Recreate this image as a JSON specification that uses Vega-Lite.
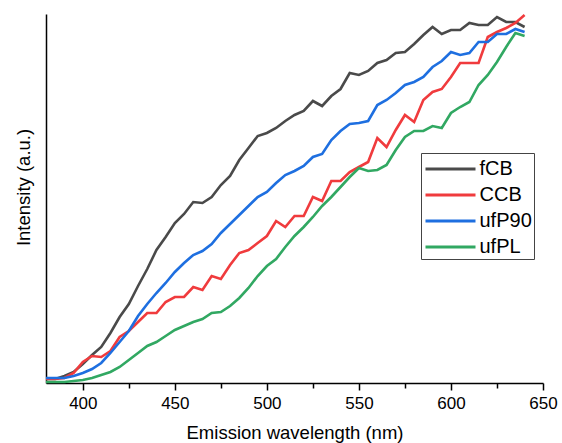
{
  "$schema": "https://vega.github.io/schema/vega-lite/v6.json",
  "width": 497,
  "height": 369,
  "autosize": {"type": "none"},
  "padding": {"left": 46, "top": 14, "right": 19, "bottom": 60},
  "background": "white",
  "config": {
    "view": {"stroke": null},
    "font": "Liberation Sans"
  },
  "data": {
    "values": [
      {"wl":380,"fCB":4,"CCB":4,"ufP90":5,"ufPL":1},
      {"wl":385,"fCB":4,"CCB":4,"ufP90":5,"ufPL":1},
      {"wl":390,"fCB":7,"CCB":5,"ufP90":5,"ufPL":1},
      {"wl":395,"fCB":11,"CCB":10,"ufP90":7,"ufPL":2},
      {"wl":400,"fCB":19,"CCB":21,"ufP90":10,"ufPL":3},
      {"wl":405,"fCB":28,"CCB":27,"ufP90":14,"ufPL":5},
      {"wl":410,"fCB":36,"CCB":26,"ufP90":20,"ufPL":8},
      {"wl":415,"fCB":50,"CCB":32,"ufP90":30,"ufPL":11},
      {"wl":420,"fCB":66,"CCB":46,"ufP90":41,"ufPL":16},
      {"wl":425,"fCB":79,"CCB":52,"ufP90":52,"ufPL":23},
      {"wl":430,"fCB":97,"CCB":61,"ufP90":67,"ufPL":30},
      {"wl":435,"fCB":114,"CCB":70,"ufP90":79,"ufPL":37},
      {"wl":440,"fCB":133,"CCB":70,"ufP90":90,"ufPL":41},
      {"wl":445,"fCB":146,"CCB":81,"ufP90":100,"ufPL":47},
      {"wl":450,"fCB":160,"CCB":86,"ufP90":111,"ufPL":53},
      {"wl":455,"fCB":169,"CCB":86,"ufP90":120,"ufPL":57},
      {"wl":460,"fCB":181,"CCB":96,"ufP90":128,"ufPL":61},
      {"wl":465,"fCB":180,"CCB":93,"ufP90":132,"ufPL":64},
      {"wl":470,"fCB":186,"CCB":107,"ufP90":139,"ufPL":70},
      {"wl":475,"fCB":198,"CCB":104,"ufP90":150,"ufPL":71},
      {"wl":480,"fCB":207,"CCB":118,"ufP90":159,"ufPL":77},
      {"wl":485,"fCB":223,"CCB":130,"ufP90":168,"ufPL":85},
      {"wl":490,"fCB":235,"CCB":133,"ufP90":177,"ufPL":95},
      {"wl":495,"fCB":247,"CCB":140,"ufP90":186,"ufPL":107},
      {"wl":500,"fCB":250,"CCB":147,"ufP90":191,"ufPL":117},
      {"wl":505,"fCB":255,"CCB":162,"ufP90":200,"ufPL":124},
      {"wl":510,"fCB":262,"CCB":156,"ufP90":208,"ufPL":136},
      {"wl":515,"fCB":268,"CCB":167,"ufP90":212,"ufPL":147},
      {"wl":520,"fCB":272,"CCB":167,"ufP90":217,"ufPL":156},
      {"wl":525,"fCB":282,"CCB":186,"ufP90":226,"ufPL":166},
      {"wl":530,"fCB":277,"CCB":182,"ufP90":229,"ufPL":177},
      {"wl":535,"fCB":287,"CCB":202,"ufP90":243,"ufPL":186},
      {"wl":540,"fCB":294,"CCB":202,"ufP90":252,"ufPL":196},
      {"wl":545,"fCB":310,"CCB":211,"ufP90":259,"ufPL":206},
      {"wl":550,"fCB":308,"CCB":216,"ufP90":260,"ufPL":215},
      {"wl":555,"fCB":312,"CCB":221,"ufP90":262,"ufPL":212},
      {"wl":560,"fCB":320,"CCB":245,"ufP90":278,"ufPL":213},
      {"wl":565,"fCB":323,"CCB":236,"ufP90":283,"ufPL":218},
      {"wl":570,"fCB":330,"CCB":253,"ufP90":290,"ufPL":233},
      {"wl":575,"fCB":331,"CCB":268,"ufP90":298,"ufPL":246},
      {"wl":580,"fCB":339,"CCB":261,"ufP90":301,"ufPL":252},
      {"wl":585,"fCB":348,"CCB":283,"ufP90":306,"ufPL":252},
      {"wl":590,"fCB":356,"CCB":291,"ufP90":316,"ufPL":257},
      {"wl":595,"fCB":349,"CCB":294,"ufP90":322,"ufPL":255},
      {"wl":600,"fCB":353,"CCB":306,"ufP90":331,"ufPL":270},
      {"wl":605,"fCB":353,"CCB":320,"ufP90":328,"ufPL":276},
      {"wl":610,"fCB":360,"CCB":320,"ufP90":330,"ufPL":281},
      {"wl":615,"fCB":358,"CCB":320,"ufP90":341,"ufPL":298},
      {"wl":620,"fCB":358,"CCB":346,"ufP90":341,"ufPL":308},
      {"wl":625,"fCB":366,"CCB":351,"ufP90":349,"ufPL":321},
      {"wl":630,"fCB":361,"CCB":355,"ufP90":349,"ufPL":336},
      {"wl":635,"fCB":361,"CCB":360,"ufP90":354,"ufPL":350},
      {"wl":640,"fCB":356,"CCB":368,"ufP90":351,"ufPL":347}
    ]
  },
  "transform": [{"fold": ["fCB", "CCB", "ufP90", "ufPL"], "as": ["series", "intensity"]}],
  "mark": {"type": "line", "strokeWidth": 2.6, "strokeJoin": "miter"},
  "encoding": {
    "x": {
      "field": "wl", "type": "quantitative",
      "scale": {"domain": [380, 650], "nice": false, "zero": false},
      "axis": {
        "title": "Emission wavelength (nm)",
        "values": [400, 425, 450, 475, 500, 525, 550, 575, 600, 625, 650],
        "labelExpr": "datum.value % 50 === 0 ? datum.label : ''",
        "ticks": true,
        "tickSize": {"condition": {"test": "datum.value % 50 === 0", "value": 7}, "value": 5},
        "grid": false,
        "domainColor": "#000000", "domainWidth": 1.5,
        "tickColor": "#000000", "tickWidth": 1.5, "tickOpacity": 1,
        "labelFontSize": 17, "labelColor": "#000000", "labelPadding": 5,
        "labelFont": "Liberation Sans", "labelFlush": false,
        "titleFontSize": 18.5, "titleFontWeight": "normal", "titleColor": "#000000",
        "titleFont": "Liberation Sans", "titleBaseline": "alphabetic", "titleY": 55
      }
    },
    "y": {
      "field": "intensity", "type": "quantitative",
      "scale": {"domain": [0, 369], "nice": false},
      "axis": {
        "title": "Intensity (a.u.)",
        "ticks": false, "labels": false, "grid": false,
        "domainColor": "#000000", "domainWidth": 1.5,
        "titleFontSize": 18.5, "titleFontWeight": "normal", "titleColor": "#000000",
        "titleFont": "Liberation Sans", "titleBaseline": "middle",
        "titleX": -23, "titleY": 173
      }
    },
    "color": {
      "field": "series", "type": "nominal",
      "scale": {"domain": ["fCB", "CCB", "ufP90", "ufPL"], "range": ["#4a4a4a", "#f03b3d", "#1e6fe0", "#31a862"]},
      "legend": {
        "title": null,
        "orient": "none",
        "legendX": 375,
        "legendY": 139,
        "strokeColor": "#444444",
        "padding": 2,
        "symbolType": "M-2,0H2",
        "symbolSize": 625,
        "symbolOffset": 13.5,
        "symbolStrokeWidth": 3,
        "labelFontSize": 20,
        "labelColor": "#000000",
        "labelOffset": 15,
        "labelFont": "Liberation Sans",
        "rowPadding": 2
      }
    }
  }
}
